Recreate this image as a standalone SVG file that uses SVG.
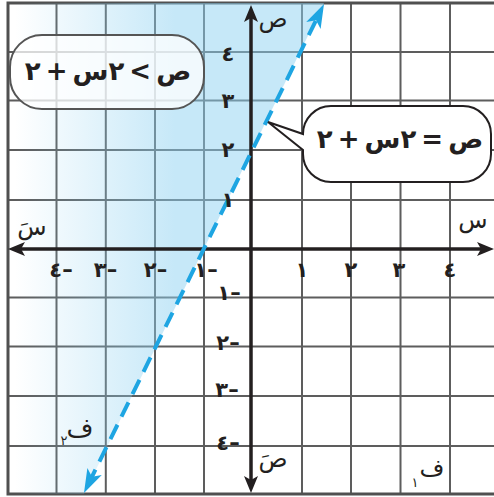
<svg xmlns="http://www.w3.org/2000/svg" width="494" height="497" viewBox="0 0 494 497">
<style>
.grid line{stroke:#5d5d5d;stroke-width:2}
.border{stroke:#505050;stroke-width:3;fill:none}
.axis{stroke:#231f20;stroke-width:3.5;fill:none}
.lbl{font-family:"DejaVu Sans",sans-serif;font-weight:bold;font-size:21px;fill:#231f20;text-anchor:middle}
.var{font-family:"DejaVu Sans",sans-serif;font-size:24px;fill:#231f20;text-anchor:middle}
.eq{font-family:"DejaVu Sans",sans-serif;font-weight:bold;font-size:26px;word-spacing:-4px;fill:#231f20;text-anchor:middle}
</style>
<defs>
<linearGradient id="shade" gradientUnits="userSpaceOnUse" x1="15" y1="0" x2="175" y2="0">
<stop offset="0" stop-color="#8dd1f1" stop-opacity="0"/>
<stop offset="1" stop-color="#8dd1f1" stop-opacity="0.5"/>
</linearGradient>
<marker id="ah" viewBox="-8 -8 19 16" markerWidth="19" markerHeight="16" refX="0" refY="0" orient="auto-start-reverse" markerUnits="userSpaceOnUse">
<path d="M10,0 L-7,-7 L-3,0 L-7,7 Z" fill="#231f20"/>
</marker>
<marker id="bh" viewBox="-15 -9 26 18" markerWidth="26" markerHeight="18" refX="0" refY="0" orient="auto-start-reverse" markerUnits="userSpaceOnUse">
<path d="M10,0 L-14,-8 L-8,0 L-14,8 Z" fill="#1ea5e2"/>
</marker>
</defs>
<rect x="0" y="0" width="494" height="497" fill="#ffffff"/>
<g class="grid">
<line x1="56.5" y1="3" x2="56.5" y2="494"/>
<line x1="105.8" y1="3" x2="105.8" y2="494"/>
<line x1="155" y1="3" x2="155" y2="494"/>
<line x1="204" y1="3" x2="204" y2="494"/>
<line x1="302" y1="3" x2="302" y2="494"/>
<line x1="351" y1="3" x2="351" y2="494"/>
<line x1="400.5" y1="3" x2="400.5" y2="494"/>
<line x1="450" y1="3" x2="450" y2="494"/>
<line x1="8" y1="52" x2="494" y2="52"/>
<line x1="8" y1="100.5" x2="494" y2="100.5"/>
<line x1="8" y1="150" x2="494" y2="150"/>
<line x1="8" y1="200" x2="494" y2="200"/>
<line x1="8" y1="297.5" x2="494" y2="297.5"/>
<line x1="8" y1="346.5" x2="494" y2="346.5"/>
<line x1="8" y1="396" x2="494" y2="396"/>
<line x1="8" y1="446" x2="494" y2="446"/>
</g>
<path class="border" d="M494,3 H8 V494 H494"/>
<polygon points="8,3 324,3 84,494 8,494" fill="url(#shade)"/>
<g id="connectors">
<line class="axis" x1="18" y1="249" x2="484" y2="249" marker-start="url(#ah)" marker-end="url(#ah)"/>
<line class="axis" x1="251" y1="483" x2="251" y2="15" marker-start="url(#ah)" marker-end="url(#ah)"/>
<line x1="88.4" y1="484" x2="319.6" y2="13" stroke="#1ea5e2" stroke-width="4" stroke-dasharray="16 9" marker-start="url(#bh)" marker-end="url(#bh)"/>
</g>
<g id="axis-labels">
<text class="var" x="32" y="235">سَ</text>
<text class="var" x="473" y="228">س</text>
<text class="var" x="273" y="27">ص</text>
<text class="var" x="273" y="467">صَ</text>
</g>
<g id="x-ticks">
<text class="lbl" x="302" y="277">١</text>
<text class="lbl" x="351" y="277">٢</text>
<text class="lbl" x="399" y="277">٣</text>
<text class="lbl" x="450" y="277">٤</text>
<text class="lbl" x="206" y="277" direction="ltr">١–</text>
<text class="lbl" x="155.5" y="277" direction="ltr">٢–</text>
<text class="lbl" x="105.5" y="277" direction="ltr">٣–</text>
<text class="lbl" x="61" y="277" direction="ltr">٤–</text>
</g>
<g id="y-ticks">
<text class="lbl" x="228" y="61">٤</text>
<text class="lbl" x="228" y="108">٣</text>
<text class="lbl" x="228" y="157">٢</text>
<text class="lbl" x="228" y="207">١</text>
<text class="lbl" x="229" y="300" direction="ltr">١–</text>
<text class="lbl" x="228" y="350" direction="ltr">٢–</text>
<text class="lbl" x="227" y="397" direction="ltr">٣–</text>
<text class="lbl" x="228" y="450" direction="ltr">٤–</text>
</g>
<g id="region-f1">
<text class="var" x="432" y="476">ف</text>
<text class="var" x="415" y="487" style="font-size:13px">١</text>
</g>
<g id="region-f2">
<text class="var" x="80" y="437" style="font-size:26px">ف</text>
<text class="var" x="64" y="445" style="font-size:13px">٢</text>
</g>
<g id="inequality-label">
<rect x="10" y="35" width="194" height="74" rx="32" ry="32" fill="#ffffff" fill-opacity="0.75" stroke="#555555" stroke-width="2"/>
<text class="eq" x="108" y="80" direction="rtl">ص &gt; ٢س + ٢</text>
</g>
<g id="equation-label">
<path d="M331,106 H463 A28,28 0 0 1 491,134 V154 A28,28 0 0 1 463,182 H331 A28,28 0 0 1 303,154 V150 L268,122 L303,134 A28,28 0 0 1 331,106 Z" fill="#ffffff" stroke="#231f20" stroke-width="2"/>
<text class="eq" x="400" y="148" direction="rtl">ص = ٢س + ٢</text>
</g>
</svg>
